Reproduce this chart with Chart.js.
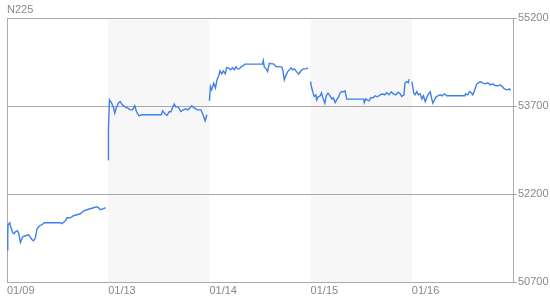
<!DOCTYPE html>
<html>
<head>
<meta charset="utf-8">
<script src="https://cdn.jsdelivr.net/npm/chart.js@4.4.1/dist/chart.umd.min.js"></script>
<style>
  html, body { margin: 0; padding: 0; background: #fff; }
</style>
</head>
<body>
<canvas id="chart" width="550" height="300"></canvas>
<script>
// day labels and price ticks
const dayLabels = ['01/09', '01/13', '01/14', '01/15', '01/16'];
const priceTicks = [50700, 52200, 53700, 55200];
const minutesPerDay = 400;

// minutes after 9:00 and price, one pair of arrays per session
const day1Minutes = [0, 3, 4, 11, 13, 23, 28, 33, 40, 46, 53, 62, 73, 86, 99, 105, 112, 119, 129, 138, 148, 150, 210, 217, 231, 237, 250, 263, 277, 290, 303, 316, 329, 342, 356, 362, 369, 382, 390];
const day1Prices = [51251, 51540, 51677, 51711, 51660, 51540, 51523, 51557, 51575, 51540, 51375, 51472, 51489, 51506, 51421, 51404, 51455, 51609, 51660, 51677, 51711, 51711, 51711, 51694, 51745, 51796, 51796, 51830, 51847, 51864, 51915, 51932, 51950, 51967, 51984, 51967, 51932, 51950, 51967];

const day2Minutes = [0, 1, 5, 13, 21, 26, 32, 40, 47, 56, 66, 76, 87, 96, 105, 112, 122, 132, 142, 150, 210, 215, 221, 232, 241, 248, 254, 261, 267, 277, 287, 296, 307, 316, 324, 330, 339, 353, 366, 375, 383, 390];
const day2Prices = [52785, 53325, 53807, 53756, 53676, 53581, 53671, 53751, 53778, 53722, 53688, 53671, 53637, 53637, 53705, 53603, 53535, 53552, 53552, 53552, 53552, 53620, 53586, 53540, 53603, 53603, 53671, 53734, 53688, 53688, 53608, 53637, 53654, 53637, 53671, 53705, 53671, 53637, 53637, 53552, 53449, 53552];

const day3Minutes = [0, 4, 9, 17, 24, 30, 37, 42, 49, 55, 63, 68, 75, 83, 92, 99, 105, 112, 119, 125, 132, 141, 150, 210, 213, 217, 224, 230, 237, 244, 254, 263, 277, 286, 290, 296, 303, 309, 316, 323, 329, 336, 342, 353, 362, 371, 382, 390];
const day3Prices = [53790, 54034, 53978, 54092, 54012, 54148, 54222, 54302, 54251, 54302, 54251, 54358, 54353, 54319, 54353, 54319, 54370, 54336, 54336, 54370, 54387, 54416, 54416, 54416, 54477, 54370, 54336, 54290, 54433, 54421, 54421, 54375, 54370, 54370, 54319, 54148, 54234, 54285, 54319, 54353, 54319, 54336, 54302, 54245, 54302, 54336, 54336, 54353];

const day4Minutes = [0, 3, 10, 14, 21, 24, 30, 38, 43, 49, 56, 62, 69, 77, 84, 90, 97, 103, 110, 117, 123, 130, 136, 143, 150, 210, 212, 218, 224, 231, 238, 247, 255, 264, 275, 284, 293, 301, 310, 319, 327, 337, 346, 354, 360, 369, 373, 380, 386, 390];
const day4Prices = [54119, 54034, 53922, 53864, 53893, 53807, 53859, 53876, 53927, 53836, 53751, 53876, 53922, 53876, 53819, 53842, 53761, 53807, 53853, 53927, 53949, 53944, 53961, 53819, 53819, 53819, 53761, 53824, 53807, 53790, 53842, 53842, 53876, 53859, 53893, 53910, 53893, 53927, 53893, 53944, 53910, 53893, 53939, 53910, 53864, 53893, 54092, 54119, 54097, 54160];

const day5Minutes = [0, 4, 8, 13, 20, 26, 33, 40, 46, 53, 59, 66, 73, 77, 83, 90, 96, 103, 112, 120, 129, 138, 150, 210, 212, 221, 228, 235, 241, 248, 255, 261, 271, 280, 290, 300, 311, 320, 329, 340, 349, 357, 366, 377, 386, 390];
const day5Prices = [54119, 54029, 53922, 53893, 53949, 53893, 53910, 53819, 53876, 53778, 53842, 53910, 53944, 53859, 53751, 53807, 53859, 53876, 53893, 53876, 53910, 53876, 53876, 53876, 53910, 53893, 53949, 53927, 53893, 53966, 54063, 54092, 54114, 54097, 54080, 54097, 54063, 54080, 54051, 54046, 54063, 54034, 53995, 53978, 53995, 53966];

const sessions = [
    [day1Minutes, day1Prices],
    [day2Minutes, day2Prices],
    [day3Minutes, day3Prices],
    [day4Minutes, day4Prices],
    [day5Minutes, day5Prices]
];

const gridColor = '#aaaaaa';
const textColor = '#888888';
const lineColor = '#3f80ea';

Chart.defaults.font.family = '"Liberation Sans", Arial, sans-serif';
Chart.defaults.font.size = 11;
Chart.defaults.color = textColor;

// grey background on every other day
const dayBands = {
    id: 'dayBands',
    beforeDraw(chart) {
        const { ctx, chartArea, scales: { x } } = chart;
        ctx.save();
        ctx.fillStyle = '#f7f7f7';
        [1, 3].forEach(i => {
            const x0 = x.getPixelForValue(i * minutesPerDay);
            const x1 = x.getPixelForValue((i + 1) * minutesPerDay);
            ctx.fillRect(x0, chartArea.top, x1 - x0, chartArea.bottom - chartArea.top);
        });
        ctx.restore();
    }
};

const datasets = sessions.map(([minutes, prices], d) => ({
    data: minutes.map((m, i) => ({ x: d * minutesPerDay + m, y: prices[i] })),
    borderColor: lineColor,
    borderWidth: 1.4,
    pointRadius: 0,
    tension: 0,
    fill: false
}));

new Chart(document.getElementById('chart'), {
    type: 'line',
    data: { datasets },
    plugins: [dayBands],
    options: {
        responsive: false,
        animation: false,
        layout: { padding: { left: 7, right: 0, top: 0, bottom: 0 } },
        plugins: {
            legend: { display: false },
            tooltip: { enabled: false },
            title: {
                display: true,
                text: 'N225',
                align: 'start',
                color: textColor,
                font: { size: 11, weight: 'normal' },
                padding: { top: 3, bottom: 2 }
            }
        },
        scales: {
            x: {
                type: 'linear',
                min: 0,
                max: dayLabels.length * minutesPerDay,
                afterBuildTicks: scale => {
                    scale.ticks = dayLabels.map((_, i) => ({ value: i * minutesPerDay }));
                },
                afterFit: scale => { scale.height = 18; },
                ticks: {
                    autoSkip: false,
                    maxRotation: 0,
                    align: 'start',
                    padding: 2,
                    color: textColor,
                    callback: v => dayLabels[Math.round(v / minutesPerDay)]
                },
                grid: {
                    drawTicks: false,
                    color: c => (c.tick && c.tick.value === 0 ? gridColor : 'rgba(0,0,0,0)')
                },
                border: { display: true, color: gridColor }
            },
            y: {
                position: 'right',
                min: priceTicks[0],
                max: priceTicks[priceTicks.length - 1],
                afterBuildTicks: scale => {
                    scale.ticks = priceTicks.map(v => ({ value: v }));
                },
                afterFit: scale => { scale.width = 37; },
                ticks: {
                    padding: 1,
                    color: textColor,
                    callback: v => String(v)
                },
                grid: { color: gridColor, tickLength: 4, drawTicks: true },
                border: { display: true, color: gridColor }
            }
        }
    }
});
</script>
</body>
</html>
